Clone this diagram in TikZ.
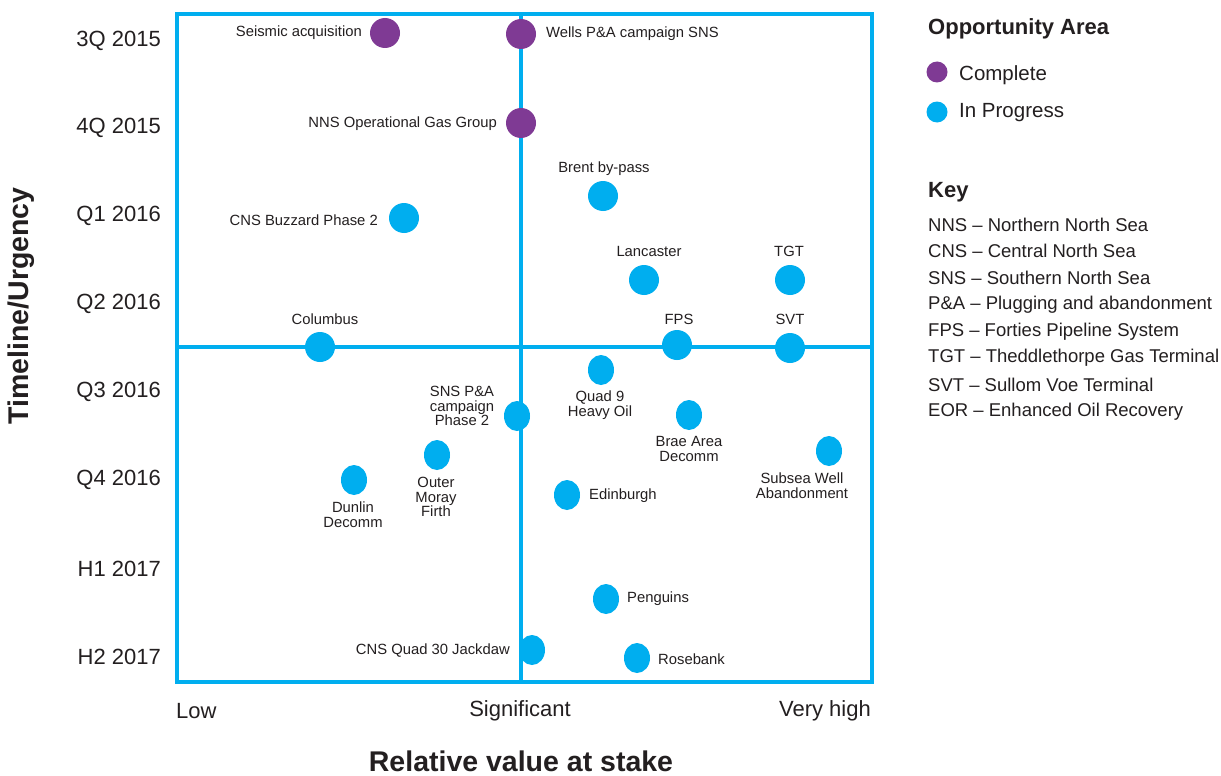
\documentclass[tikz,border=0pt]{standalone}
\usepackage{fontspec}
\setmainfont{Liberation Sans}
\usetikzlibrary{shapes.geometric}
\definecolor{cblue}{HTML}{00AEEF}
\definecolor{cpurple}{HTML}{7F3A94}
\definecolor{ctext}{HTML}{231F20}
\begin{document}
\begin{tikzpicture}[x=1pt,y=-1pt,
  dotc/.style={circle, fill=cpurple, minimum size=30pt, inner sep=0pt},
  doti/.style={circle, fill=cblue, minimum size=30pt, inner sep=0pt},
  dotl/.style={ellipse, fill=cblue, minimum width=26pt, minimum height=30pt, inner sep=0pt},
  lab/.style={text=ctext, font=\fontsize{14.8}{14.8}\selectfont, inner sep=0pt, align=center},
  ticklab/.style={text=ctext, font=\fontsize{22}{26}\selectfont, inner sep=0pt},
  axtitle/.style={text=ctext, font=\bfseries\fontsize{28.5}{32}\selectfont, inner sep=0pt},
  leghead/.style={text=ctext, font=\bfseries\fontsize{22}{24}\selectfont, inner sep=0pt, anchor=west},
  legitem/.style={text=ctext, font=\fontsize{20.5}{24}\selectfont, inner sep=0pt, anchor=west},
  keyitem/.style={text=ctext, font=\fontsize{18.5}{20}\selectfont, inner sep=0pt, anchor=west},
  frameline/.style={cblue, line width=4pt},
  divline/.style={cblue, line width=3.5pt}
]
\useasboundingbox (0,0) rectangle (1221,776);
\fill[white] (0,0) rectangle (1221,776);

% frame and quadrant dividers
\draw[divline] (521,14) -- (521,682);
\draw[divline] (177,347) -- (872,347);
\draw[frameline] (177,14) rectangle (872,682);

% y tick labels
\node[ticklab, anchor=east] (y1) at (161,41) {3Q 2015};
\node[ticklab, anchor=east] (y2) at (161,128) {4Q 2015};
\node[ticklab, anchor=east] (y3) at (161,216) {Q1 2016};
\node[ticklab, anchor=east] (y4) at (161,304) {Q2 2016};
\node[ticklab, anchor=east] (y5) at (161,392) {Q3 2016};
\node[ticklab, anchor=east] (y6) at (161,480) {Q4 2016};
\node[ticklab, anchor=east] (y7) at (161,569) {H1 2017};
\node[ticklab, anchor=east] (y8) at (161,657) {H2 2017};

% x tick labels
\node[ticklab, anchor=west] (xlow) at (176,711) {Low};
\node[ticklab] (xsig) at (520,711) {Significant};
\node[ticklab, anchor=east] (xhigh) at (871,711) {Very high};

% axis titles
\node[axtitle] (xtitle) at (521,761) {Relative value at stake};
\node[axtitle, rotate=90] (ytitle) at (21,306) {Timeline/Urgency};

% complete points
\node[dotc] (seis) at (385,33) {};
\node[lab, anchor=east] (seisl) at (362,33) {Seismic acquisition};
\node[dotc] (wells) at (521,34) {};
\node[lab, anchor=west] (wellsl) at (546,34) {Wells P\&A campaign SNS};
\node[dotc] (nns) at (521,123) {};
\node[lab, anchor=east] (nnsl) at (497,124) {NNS Operational Gas Group};

% in progress points (upper)
\node[doti] (brent) at (603,196) {};
\node[lab] (brentl) at (604,169) {Brent by-pass};
\node[doti] (buzz) at (404,218) {};
\node[lab, anchor=east] (buzzl) at (378,220) {CNS Buzzard Phase 2};
\node[doti] (lanc) at (644,280) {};
\node[lab] (lancl) at (649,251) {Lancaster};
\node[doti] (tgt) at (790,280) {};
\node[lab] (tgtl) at (789,251) {TGT};
\node[doti] (colu) at (320,347) {};
\node[lab] (colul) at (325,319) {Columbus};
\node[doti] (fps) at (677,345) {};
\node[lab] (fpsl) at (679,319) {FPS};
\node[doti] (svt) at (790,348) {};
\node[lab] (svtl) at (790,319) {SVT};

% in progress points (lower)
\node[dotl] (quad9) at (601,370) {};
\node[lab] (quad9l) at (600,405) {Quad 9\\Heavy Oil};
\node[dotl] (snspa) at (517,416) {};
\node[lab] (snspal) at (462,406) {SNS P\&A\\campaign\\Phase 2};
\node[dotl] (brae) at (689,415) {};
\node[lab] (brael) at (689,449) {Brae Area\\Decomm};
\node[dotl] (subsea) at (829,451) {};
\node[lab] (subseal) at (802,486) {Subsea Well\\Abandonment};
\node[dotl] (omf) at (437,455) {};
\node[lab] (omfl) at (436,497) {Outer\\Moray\\Firth};
\node[dotl] (dunlin) at (354,480) {};
\node[lab] (dunlinl) at (353,515) {Dunlin\\Decomm};
\node[dotl] (edin) at (567,495) {};
\node[lab, anchor=west] (edinl) at (589,496) {Edinburgh};
\node[dotl] (peng) at (606,599) {};
\node[lab, anchor=west] (pengl) at (627,599) {Penguins};
\node[dotl] (jack) at (532,650) {};
\node[lab, anchor=east] (jackl) at (510,651) {CNS Quad 30 Jackdaw};
\node[dotl] (rose) at (637,658) {};
\node[lab, anchor=west] (rosel) at (658,659) {Rosebank};

% legend
\node[leghead] (opp) at (928,29) {Opportunity Area};
\node[circle, fill=cpurple, minimum size=21pt, inner sep=0pt] (legc) at (937,72) {};
\node[legitem] (legcl) at (959,75) {Complete};
\node[circle, fill=cblue, minimum size=21pt, inner sep=0pt] (legi) at (937,112) {};
\node[legitem] (legil) at (959,113) {In Progress};

\node[leghead] (key) at (928,192) {Key};
\node[keyitem] (k1) at (928,225) {NNS – Northern North Sea};
\node[keyitem] (k2) at (928,251) {CNS – Central North Sea};
\node[keyitem] (k3) at (928,278) {SNS – Southern North Sea};
\node[keyitem] (k4) at (928,305) {P\&A – Plugging and abandonment};
\node[keyitem] (k5) at (928,332) {FPS – Forties Pipeline System};
\node[keyitem] (k6) at (928,358) {TGT – Theddlethorpe Gas Terminal};
\node[keyitem] (k7) at (928,385) {SVT – Sullom Voe Terminal};
\node[keyitem] (k8) at (928,412) {EOR – Enhanced Oil Recovery};
\end{tikzpicture}
\end{document}
